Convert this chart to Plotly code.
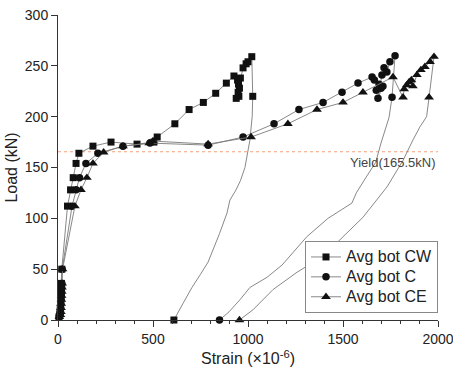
import plotly.graph_objects as go

# Average bottom-fibre strain (x10^-6) against applied load (kN)
# Loading readings (each one drawn with a marker)
cw_strain = [5, 9, 11, 12, 13, 14, 15, 16, 17, 18, 20, 50, 66, 80, 95, 110, 184, 279, 416, 505,
             522, 615, 690, 765, 830, 886, 926, 945, 950, 955, 948, 952, 938, 960, 974, 990, 1000, 1020, 1025]
cw_load = [3, 5, 8, 12, 16, 20, 24, 28, 32, 36, 50, 112, 128, 140, 154, 164, 171, 175, 173, 175,
           180, 193, 207, 214, 223, 233, 240, 236, 232, 228, 224, 220, 218, 238, 248, 252, 254, 259, 220]
# Unloading branch (continuous record, final reading marked)
cw_unload_strain = [1022, 1010, 984, 960, 937, 905, 889, 850, 790, 750, 705, 660, 610]
cw_unload_load = [200, 177, 150, 137, 128, 118, 105, 85, 57, 45, 32, 17, 0]

c_strain = [6, 11, 13, 14, 15, 16, 17, 18, 19, 20, 22, 74, 95, 113, 147, 210, 342, 484, 790, 974,
            1137, 1268, 1395, 1495, 1579, 1653, 1665, 1690, 1700, 1675, 1710, 1684, 1705, 1716, 1731, 1747, 1774, 1758]
c_load = [3, 5, 8, 12, 16, 20, 24, 28, 32, 36, 50, 112, 128, 140, 154, 164, 171, 174, 172, 180,
          193, 207, 214, 224, 233, 239, 236, 232, 228, 226, 230, 218, 241, 248, 244, 254, 260, 219]
c_unload_strain = [1742, 1700, 1672, 1620, 1570, 1547, 1421, 1310, 1179, 1100, 1010, 958, 900, 850]
c_unload_load = [199, 174, 155, 140, 125, 115, 100, 82, 54, 42, 32, 20, 8, 0]

ce_strain = [7, 13, 15, 16, 17, 18, 19, 20, 21, 22, 24, 89, 121, 152, 184, 240, 342, 480, 500, 790,
             1016, 1210, 1363, 1500, 1605, 1763, 1816, 1822, 1835, 1848, 1860, 1868, 1889, 1910, 1931, 1958, 1979, 1953]
ce_load = [3, 5, 8, 12, 16, 20, 24, 28, 32, 36, 50, 112, 128, 140, 154, 165, 171, 174, 176, 173,
           180, 193, 207, 214, 224, 239, 219, 227, 231, 234, 236, 230, 241, 246, 249, 254, 259, 219]
ce_unload_strain = [1940, 1905, 1868, 1816, 1732, 1605, 1468, 1337, 1258, 1132, 1026, 955]
ce_unload_load = [200, 190, 177, 157, 131, 101, 76, 56, 47, 30, 10, 0]

yield_load = 165.5
x_ticks = [0, 500, 1000, 1500, 2000]
y_ticks = [0, 50, 100, 150, 200, 250, 300]

series = [
    ("Avg bot CW", "square", 7, cw_strain, cw_load, cw_unload_strain, cw_unload_load),
    ("Avg bot C", "circle", 7.5, c_strain, c_load, c_unload_strain, c_unload_load),
    ("Avg bot CE", "triangle-up", 8.5, ce_strain, ce_load, ce_unload_strain, ce_unload_load),
]

LINE = "#7a7a7a"
INK = "#111111"
AXIS = "#333333"
FONT = "Arial, Liberation Sans, sans-serif"

fig = go.Figure()

# yield level
fig.add_trace(go.Scatter(
    x=[0, 2000], y=[yield_load, yield_load], mode="lines",
    line=dict(color="#f4a07a", width=1.2, dash="dot"),
    showlegend=False, hoverinfo="skip"))

for name, symbol, size, xs, ys, uxs, uys in series:
    # continuous path: loading then unloading
    fig.add_trace(go.Scatter(
        x=xs + uxs, y=ys + uys, mode="lines",
        line=dict(color=LINE, width=0.9),
        showlegend=False, hoverinfo="skip", cliponaxis=False))
    # marked readings
    fig.add_trace(go.Scatter(
        x=xs + uxs[-1:], y=ys + uys[-1:], mode="markers",
        marker=dict(symbol=symbol, size=size, color=INK, line=dict(width=0)),
        showlegend=False, cliponaxis=False))
    # legend entry (larger text on compact rows)
    fig.add_trace(go.Scatter(
        x=[None], y=[None], mode="lines+markers",
        name=f'<span style="font-size:16px">{name}</span>',
        line=dict(color=LINE, width=0.9),
        marker=dict(symbol=symbol, size=size, color=INK, line=dict(width=0))))

fig.add_annotation(
    x=2000, y=yield_load, xref="x", yref="y",
    text=f"Yield({yield_load}kN)", showarrow=False,
    xanchor="right", yanchor="middle", yshift=-11,
    font=dict(family=FONT, size=13, color="#444444"))

axis_common = dict(
    showline=True, linecolor=AXIS, linewidth=1,
    ticks="outside", ticklen=6, tickcolor=AXIS, tickwidth=1,
    showgrid=False, zeroline=False, mirror=False, automargin=False,
    ticklabeloverflow="allow",
    tickfont=dict(family=FONT, size=14, color="#222222"),
)

fig.update_layout(
    width=453, height=375,
    margin=dict(l=58, r=15, t=15, b=55),
    paper_bgcolor="white", plot_bgcolor="white",
    font=dict(family=FONT, color="#222222"),
    xaxis=dict(
        range=[0, 2000], tickvals=x_ticks,
        minor=dict(ticks="outside", ticklen=3, dtick=100, tickcolor=AXIS, tickwidth=1),
        title=dict(text="Strain (×10<sup>-6</sup>)", font=dict(family=FONT, size=16), standoff=7),
        **axis_common),
    yaxis=dict(
        range=[0, 300], tickvals=y_ticks,
        title=dict(text="Load (kN)", font=dict(family=FONT, size=16), standoff=3),
        **axis_common),
    legend=dict(
        x=1.0, xanchor="right", y=0.259, yanchor="top",
        bordercolor="#888888", borderwidth=1, bgcolor="white",
        font=dict(family=FONT, size=13, color="#222222"),
        tracegroupgap=0, itemwidth=30),
)

fig.write_html("out.html")
